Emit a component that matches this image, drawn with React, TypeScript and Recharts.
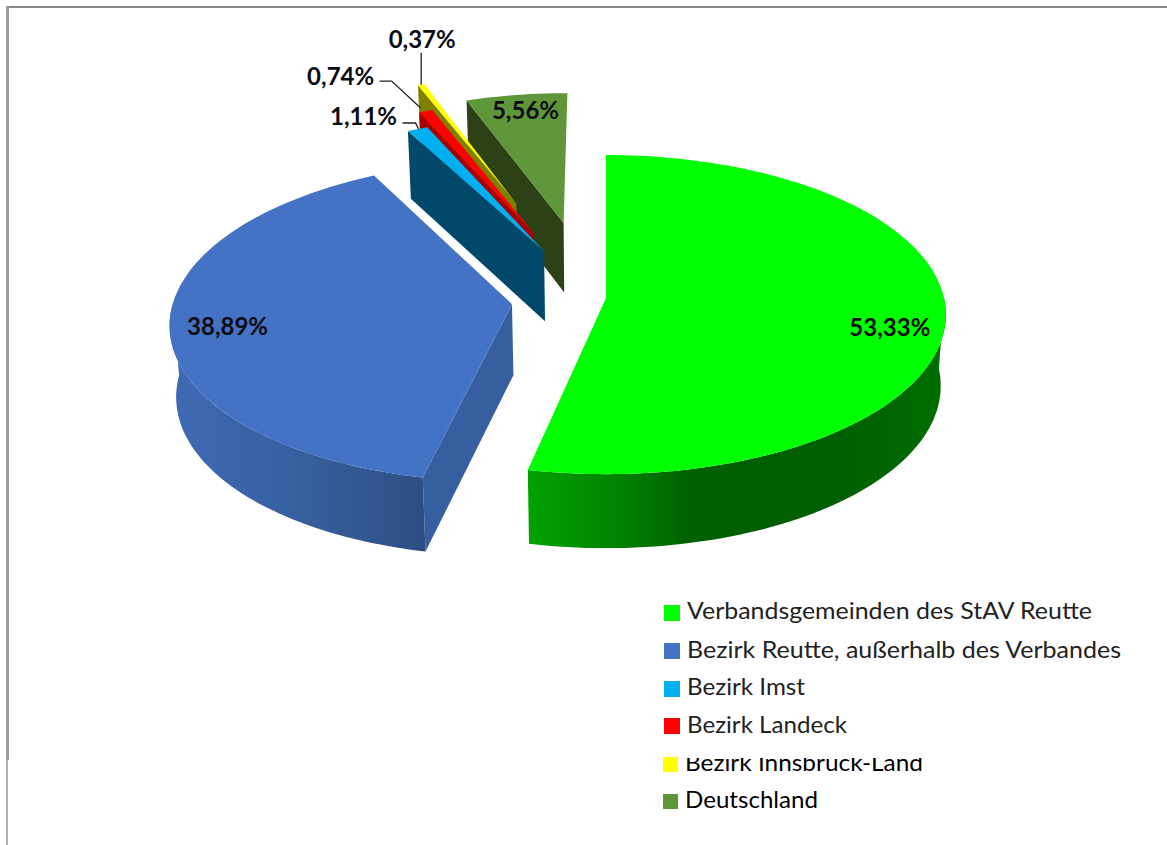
import { Legend, Pie, PieChart } from "recharts";

const CATEGORIES = [
  "Verbandsgemeinden des StAV Reutte",
  "Bezirk Reutte, außerhalb des Verbandes",
  "Bezirk Imst",
  "Bezirk Landeck",
  "Bezirk Innsbruck-Land",
  "Deutschland",
];
const VALUES = [53.33, 38.89, 1.11, 0.74, 0.37, 5.56];
const TOP_COLORS = ["#00ff00", "#4472c4", "#00b0f0", "#ff0000", "#ffff00", "#5f9639"];
const CUT_COLORS = ["#008a00", "#365f9f", "#00496b", "#a80000", "#808000", "#2c4116"];

// slices are listed far-to-near so they paint over each other correctly
const pieData = CATEGORIES.map((name, i) => ({
  name,
  value: VALUES[i],
  fill: TOP_COLORS[i],
  cut: CUT_COLORS[i],
  order: i,
})).reverse();

const FONT = "Lato, 'Noto Sans', sans-serif";
const WIDTH = 1167;
const HEIGHT = 845;

// perspective of the tilted disc
const SQUASH = 0.467;
const PERSPECTIVE = 0.104;
const DEPTH = 71;
const DEPTH_PERSPECTIVE = 0.04;
const FOOT_SCALE = 0.985;

// how far each slice is pulled out, in disc radii (across, along)
const EXPLODE = [
  [0, 0],
  [-0.277, 0.039],
  [-0.189, -0.306],
  [-0.223, -0.428],
  [-0.283, -0.637],
  [-0.132, -0.5],
];
const LABEL_SHIFT = [
  [-56, 13],
  [58, 0],
  [-54, -13],
  [-85, -35],
  [1, -45],
  [9, 16],
];
const LEADERS: number[][][] = [
  [],
  [],
  [[-15, -6], [-2, -6], [1, 0]],
  [[-46, -30], [-34, -30], [-5, -3]],
  [[0, -32], [0, 0]],
  [],
];
const WALL_STOPS: Record<number, [number, string][]> = {
  0: [[0, "#00a200"], [0.17, "#008a00"], [0.4, "#005f00"], [0.75, "#005f00"], [1, "#006e00"]],
  1: [[0, "#3f6ab5"], [0.5, "#37609f"], [1, "#2e4e84"]],
};

const LEGEND_SWATCH = [
  [664, 605, 16],
  [664, 643, 16],
  [664, 681, 16],
  [664, 718, 16],
  [663, 757, 15],
  [663, 794, 15],
];
const LEGEND_TEXT = [
  [687, 619, 405],
  [687, 658, 434],
  [687, 695, 118],
  [687, 733, 160],
  [685, 771, 238],
  [685, 808, 133],
];

const rad = (d: number) => (d * Math.PI) / 180;

function project(cx: number, cy: number, r: number, u: number, v: number, foot = false) {
  const denom = 1 - PERSPECTIVE * v;
  let x = cx + (r * u) / denom;
  let y = cy + (r * SQUASH * v) / denom;
  if (foot) {
    x = cx + (x - cx) * FOOT_SCALE;
    y += DEPTH / (1 - DEPTH_PERSPECTIVE * v);
  }
  return [x, y];
}

const toPath = (pts: number[][]) =>
  pts.map((p, i) => `${i ? "L" : "M"}${p[0].toFixed(1)} ${p[1].toFixed(1)}`).join(" ") + " Z";

function Slice3D(props: any) {
  const { cx, cy, outerRadius: r, startAngle, endAngle, payload } = props;
  const order = payload.order;
  const [du, dv] = EXPLODE[order];
  const sweep = Math.abs(endAngle - startAngle);
  const from = Math.round((90 - Math.max(startAngle, endAngle) + 720) * 1e4) / 1e4 % 360;
  const to = from + sweep;

  const at = (deg: number, foot = false) =>
    project(cx, cy, r, Math.sin(rad(deg)) + du, -Math.cos(rad(deg)) + dv, foot);
  const apex = (foot = false) => project(cx, cy, r, du, dv, foot);
  const arc = (a: number, b: number, foot = false) => {
    const n = Math.max(1, Math.ceil((b - a) / 1.5));
    return Array.from({ length: n + 1 }, (_, i) => at(a + ((b - a) * i) / n, foot));
  };

  const wallFrom = Math.max(from, 90);
  const wallTo = Math.min(to, 270);
  const stops = WALL_STOPS[order];
  const xs = wallTo > wallFrom ? arc(wallFrom, wallTo).map((p) => p[0]) : [];
  const gradId = `wall-${order}`;

  return (
    <g>
      {wallTo > wallFrom && stops ? (
        <>
          <defs>
            <linearGradient
              id={gradId}
              gradientUnits="userSpaceOnUse"
              x1={Math.min(...xs)}
              x2={Math.max(...xs)}
              y1={0}
              y2={0}
            >
              {stops.map(([o, c]) => (
                <stop key={o} offset={o} stopColor={c} />
              ))}
            </linearGradient>
          </defs>
          <path
            d={toPath([...arc(wallFrom, wallTo), ...arc(wallFrom, wallTo, true).reverse()])}
            fill={`url(#${gradId})`}
          />
        </>
      ) : null}
      {-Math.sin(rad(from)) > 0 ? (
        <path d={toPath([apex(), at(from), at(from, true), apex(true)])} fill={payload.cut} />
      ) : null}
      {Math.sin(rad(to)) > 0 ? (
        <path d={toPath([apex(), at(to), at(to, true), apex(true)])} fill={payload.cut} />
      ) : null}
      <path d={toPath([apex(), ...arc(from, to)])} fill={payload.fill} />
    </g>
  );
}

function SliceLabel(props: any) {
  const { cx, cy, outerRadius: r, midAngle, payload, value } = props;
  const order = payload.order;
  const [du, dv] = EXPLODE[order];
  const deg = 90 - midAngle;
  const [ax, ay] = project(cx, cy, r, Math.sin(rad(deg)) + du, -Math.cos(rad(deg)) + dv);
  const [sx, sy] = LABEL_SHIFT[order];
  const leader = LEADERS[order];
  return (
    <g>
      {leader.length ? (
        <polyline
          points={leader.map(([x, y]) => `${ax + x},${ay + y}`).join(" ")}
          fill="none"
          stroke="#222"
          strokeWidth={1.3}
        />
      ) : null}
      <text
        x={ax + sx}
        y={ay + sy + 8.5}
        textAnchor="middle"
        fontFamily={FONT}
        fontWeight={700}
        fontSize={24}
        fill="#0c0c14"
      >
        {`${value.toFixed(2).replace(".", ",")}%`}
      </text>
    </g>
  );
}

function LegendRows() {
  return (
    <svg width={WIDTH} height={HEIGHT} style={{ display: "block" }}>
      <defs>
        <clipPath id="cut-row">
          <rect x={660} y={758} width={300} height={20} />
        </clipPath>
      </defs>
      {CATEGORIES.map((name, i) => {
        const [sx, sy, size] = LEGEND_SWATCH[i];
        const [tx, ty, tw] = LEGEND_TEXT[i];
        return (
          <g key={name}>
            <rect x={sx} y={sy} width={size} height={size} fill={TOP_COLORS[i]} />
            <text
              x={tx}
              y={ty}
              fontFamily={FONT}
              fontSize={24}
              fill={i > 3 ? "#000" : "#222"}
              textLength={tw}
              lengthAdjust="spacingAndGlyphs"
              clipPath={i === 4 ? "url(#cut-row)" : undefined}
            >
              {name}
            </text>
          </g>
        );
      })}
    </svg>
  );
}

export default function App() {
  return (
    <div style={{ position: "absolute", left: 0, top: 0, width: WIDTH, height: HEIGHT, background: "#fff", overflow: "hidden" }}>
      <div style={{ position: "absolute", left: 6, top: 6, width: WIDTH, height: 1.5, background: "#888" }} />
      <div style={{ position: "absolute", left: 6, top: 6, width: 2, height: HEIGHT, background: "#b0b0b0" }} />
      <div style={{ position: "absolute", left: 6, top: 6, width: 2.5, height: 754, background: "#9c9c9c" }} />
      <PieChart width={WIDTH} height={HEIGHT} margin={{ top: 0, right: 0, bottom: 0, left: 0 }} style={{ position: "absolute", left: 0, top: 0 }}>
        <Pie
          data={pieData}
          dataKey="value"
          nameKey="name"
          cx={606}
          cy={298}
          innerRadius={0}
          outerRadius={338}
          startAngle={90}
          endAngle={450}
          stroke="none"
          isAnimationActive={false}
          shape={(p: any) => <Slice3D {...p} />}
          label={(p: any) => <SliceLabel {...p} />}
          labelLine={false}
        />
        <Legend
          content={() => <LegendRows />}
          wrapperStyle={{ position: "absolute", left: 0, top: 0, width: WIDTH, height: HEIGHT }}
        />
      </PieChart>
    </div>
  );
}
